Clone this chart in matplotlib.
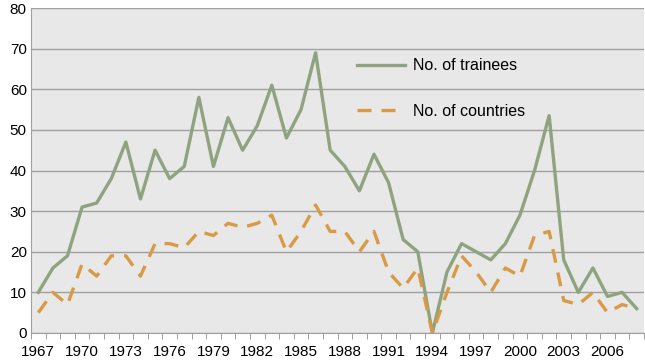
import numpy as np
import matplotlib.pyplot as plt

plt.rcParams['font.family'] = ['Liberation Sans', 'DejaVu Sans']

years = np.arange(1967, 2009)

trainees = [10, 16, 19, 31, 32, 38, 47, 33, 45, 38,
            41, 58, 41, 53, 45, 51, 61, 48, 55, 69,
            45, 41, 35, 44, 37, 23, 20, 0, 15, 22,
            20, 18, 22, 29, 40, 53.5, 18, 10, 16, 9,
            10, 6]

countries = [5, 10, 7, 17, 14, 19, 19, 14, 22, 22,
             21, 25, 24, 27, 26, 27, 29, 20, 25, 31.5,
             25, 25, 20, 25, 15, 11, 16, 0, 10, 19,
             15, 10, 16, 14, 24, 25, 8, 7, 10, 5,
             7, 6]

tick_years = list(range(1967, 2007, 3))

fig = plt.figure(figsize=(6.45, 3.63), dpi=100)
ax = fig.add_axes([31 / 645, 30 / 363, 613 / 645, 325 / 363])
ax.set_facecolor('#e8e8e8')

ax.plot(years, trainees, color='#8fa37e', lw=2.4, label='No. of trainees')
ax.plot(years, countries, color='#d99a45', lw=2.4, dashes=(4.2, 3.0),
        label='No. of countries')

ax.set_xlim(1966.5, 2008.5)
ax.set_ylim(0, 80)
ax.set_yticks(range(0, 81, 10))
ax.set_xticks(tick_years)
ax.set_xticks(np.arange(1966.5, 2009, 1), minor=True)
ax.tick_params(axis='x', which='major', length=0, pad=9, labelsize=11)
ax.tick_params(axis='x', which='minor', length=4, color='#909090')
ax.tick_params(axis='y', length=0, pad=3, labelsize=11)
ax.grid(axis='y', color='#a0a0a0', lw=1)
ax.set_axisbelow(True)

for s in ['top', 'right']:
    ax.spines[s].set_visible(False)
ax.spines['left'].set_color('#a0a0a0')
ax.spines['bottom'].set_color('#a0a0a0')

ax.legend(loc='upper left', bbox_to_anchor=(0.532, 0.845), frameon=False,
          fontsize=11.5, handlelength=3.0, handletextpad=0.5, labelspacing=1.9,
          borderpad=0, borderaxespad=0)

fig.savefig('out.png', dpi=100)
